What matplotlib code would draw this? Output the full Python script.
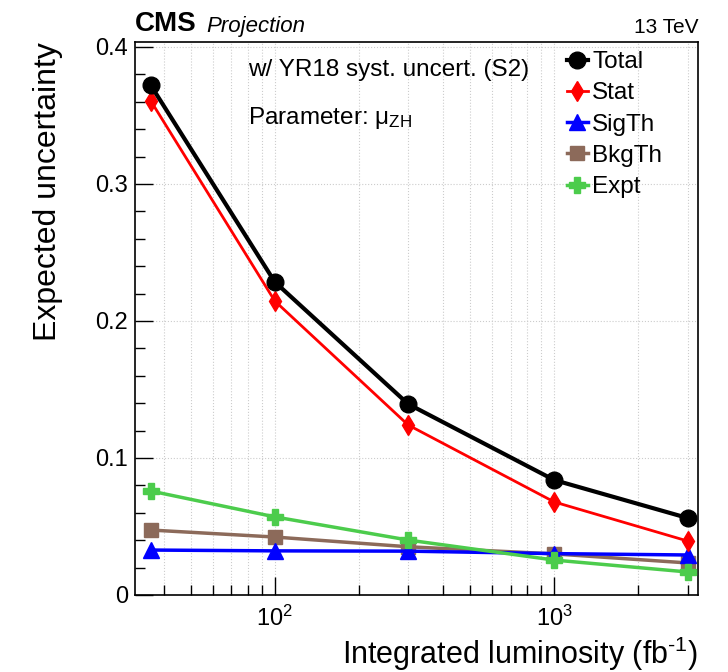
import matplotlib
matplotlib.use('Agg')
import matplotlib.pyplot as plt
from matplotlib.ticker import LogLocator, MultipleLocator, NullFormatter
import numpy as np

plt.rcParams['font.family'] = ['Liberation Sans', 'DejaVu Sans']
plt.rcParams['mathtext.fontset'] = 'custom'
plt.rcParams['mathtext.rm'] = 'Liberation Sans'
plt.rcParams['mathtext.it'] = 'Liberation Sans:italic'

# integrated luminosity points (fb^-1)
lumi = [36, 100, 300, 1000, 3000]
total = [0.372, 0.2285, 0.1394, 0.0839, 0.0562]
stat = [0.3606, 0.2146, 0.1241, 0.0679, 0.0394]
sigth = [0.0328, 0.0322, 0.0320, 0.0302, 0.0292]
bkgth = [0.0474, 0.0423, 0.0352, 0.0300, 0.0234]
expt = [0.0759, 0.0570, 0.0401, 0.0255, 0.0168]

fig = plt.figure(figsize=(7.28, 6.72), dpi=100)
ax = fig.add_axes([0.1854, 0.1146, 0.7734, 0.8229])

ax.plot(lumi, total, '-o', color='black', lw=3, ms=12, label='Total', zorder=6)
ax.plot(lumi, stat, '-d', color='#ff0000', lw=2, ms=10, label='Stat', zorder=5)
ax.plot(lumi, sigth, '-^', color='#0000ff', lw=2.5, ms=11, label='SigTh', zorder=3)
ax.plot(lumi, bkgth, '-s', color='#8c6a5a', lw=2.5, ms=10, label='BkgTh', zorder=2)
ax.plot(lumi, expt, '-P', color='#4ccc4c', lw=2.5, ms=12, label='Expt', zorder=4)

ax.set_xscale('log')
ax.set_xlim(31.6, 3270)
ax.set_ylim(0, 0.4036)
ax.xaxis.set_major_locator(LogLocator(base=10))
ax.xaxis.set_minor_locator(LogLocator(base=10, subs=np.arange(2, 10)))
ax.xaxis.set_minor_formatter(NullFormatter())
ax.yaxis.set_minor_locator(MultipleLocator(0.02))
ax.set_yticks([0, 0.1, 0.2, 0.3, 0.4])
ax.set_yticklabels(['0', '0.1', '0.2', '0.3', '0.4'])

ax.grid(True, which='major', axis='y', ls=':', color='#cccccc', lw=0.8)
ax.grid(True, which='both', axis='x', ls=':', color='#cccccc', lw=0.8)
ax.set_axisbelow(True)

ax.tick_params(which='both', direction='in', labelsize=17, top=False, right=False)
ax.tick_params(which='major', length=13, width=1)
ax.tick_params(which='minor', length=7, width=1)
ax.tick_params(axis='x', which='major', pad=8)
ax.tick_params(axis='y', which='major', pad=5)
for s in ax.spines.values():
    s.set_linewidth(1.2)

ax.set_ylabel('Expected uncertainty', fontsize=23, loc='top')
ax.yaxis.set_label_coords(-0.128, 1.0)
ax.set_xlabel(r'Integrated luminosity (fb$^{\text{-1}}$)', fontsize=22, loc='right')
ax.xaxis.set_label_coords(1.0, -0.072)

leg = ax.legend(loc='upper right', bbox_to_anchor=(0.962, 1.01), frameon=False,
                fontsize=17.5, handlelength=0.9, handletextpad=0.15, labelspacing=0.38,
                borderaxespad=0.2)

ax.text(0.2, 0.95, 'w/ YR18 syst. uncert. (S2)', transform=ax.transAxes, fontsize=17.5, va='center')
ax.text(0.2, 0.862, r'Parameter: μ$_{\mathregular{ZH}}$', transform=ax.transAxes, fontsize=17.5, va='center')

fig.text(0.1854, 0.945, 'CMS', fontsize=20, fontweight='bold', ha='left', va='bottom')
fig.text(0.283, 0.945, 'Projection', fontsize=16, style='italic', ha='left', va='bottom')
fig.text(0.9588, 0.945, '13 TeV', fontsize=15, ha='right', va='bottom')

fig.savefig('out.png', dpi=100)
